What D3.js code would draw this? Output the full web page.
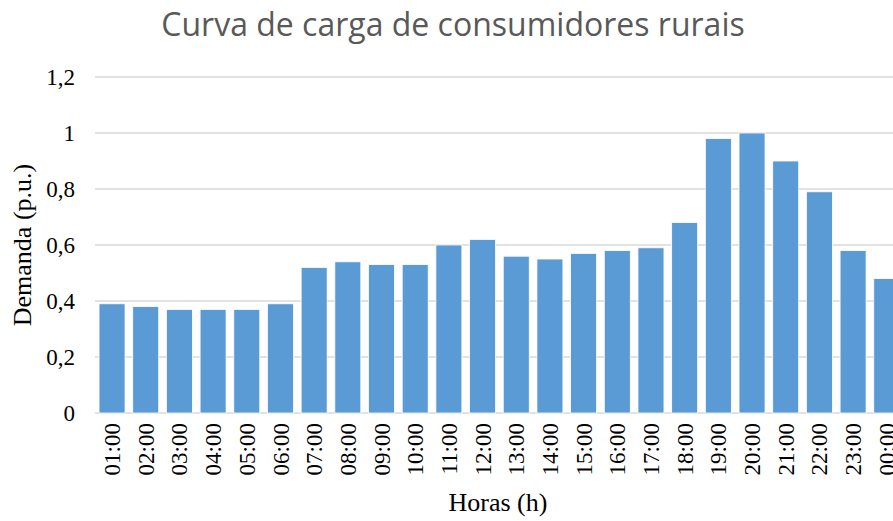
<!DOCTYPE html>
<html>
<head>
<meta charset="utf-8">
<script src="https://cdn.jsdelivr.net/npm/d3@7"></script>
<style>
  body { margin: 0; background: #fff; }
  svg { display: block; overflow: hidden; }
</style>
</head>
<body>
<svg id="chart"></svg>
<script>
// chart data
const hours = ["01:00", "02:00", "03:00", "04:00", "05:00", "06:00", "07:00", "08:00",
    "09:00", "10:00", "11:00", "12:00", "13:00", "14:00", "15:00", "16:00",
    "17:00", "18:00", "19:00", "20:00", "21:00", "22:00", "23:00", "00:00"];
const demand = [0.39, 0.38, 0.37, 0.37, 0.37, 0.39, 0.52, 0.54,
    0.53, 0.53, 0.60, 0.62, 0.56, 0.55, 0.57, 0.58,
    0.59, 0.68, 0.98, 1.00, 0.90, 0.79, 0.58, 0.48];
const yTicks = [0, 0.2, 0.4, 0.6, 0.8, 1, 1.2];

const title = "Curva de carga de consumidores rurais";
const xTitle = "Horas (h)";
const yTitle = "Demanda (p.u.)";

const width = 893;
const height = 521;
const serif = "'Liberation Serif', 'Times New Roman', serif";

const svg = d3.select("#chart")
    .attr("width", width)
    .attr("height", height);

// plot area runs past the right edge, the last bar gets cut off
const x = d3.scaleBand()
    .domain(hours)
    .range([95.2, 903.6])
    .paddingInner(0.228)
    .paddingOuter(0.114);

const y = d3.scaleLinear()
    .domain([0, 1.2])
    .range([413, 77]);

const fmt = d => d === 0 ? "0" : (Number.isInteger(d) ? String(d) : d.toFixed(1).replace(".", ","));

// gridlines
svg.append("g")
    .selectAll("line")
    .data(yTicks)
    .enter().append("line")
    .attr("x1", 95)
    .attr("x2", width)
    .attr("y1", d => y(d))
    .attr("y2", d => y(d))
    .style("stroke", "#d9d9d9")
    .style("stroke-width", 1.4);

// y tick labels
svg.append("g")
    .selectAll("text")
    .data(yTicks)
    .enter().append("text")
    .attr("x", 75)
    .attr("y", d => y(d))
    .attr("dy", "0.35em")
    .attr("text-anchor", "end")
    .style("font-family", serif)
    .style("font-size", "23px")
    .style("fill", "#000")
    .text(fmt);

// bars
svg.append("g")
    .selectAll("rect")
    .data(demand)
    .enter().append("rect")
    .attr("x", (d, i) => x(hours[i]))
    .attr("y", d => y(d))
    .attr("width", x.bandwidth())
    .attr("height", d => y(0) - y(d))
    .style("fill", "#5b9bd5")
    .style("stroke", "#ffffff")
    .style("stroke-width", 0.8);

// x tick labels, rotated
svg.append("g")
    .selectAll("text")
    .data(hours)
    .enter().append("text")
    .attr("transform", d => `translate(${x(d) + x.bandwidth() / 2},423) rotate(-90)`)
    .attr("dy", "0.35em")
    .attr("text-anchor", "end")
    .style("font-family", serif)
    .style("font-size", "23px")
    .style("fill", "#000")
    .text(d => d);

// titles
svg.append("text")
    .attr("x", 453)
    .attr("y", 36)
    .attr("text-anchor", "middle")
    .style("font-family", "'Open Sans', 'Noto Sans', sans-serif")
    .style("font-size", "32px")
    .style("fill", "#595959")
    .text(title);

svg.append("text")
    .attr("x", 498)
    .attr("y", 511)
    .attr("text-anchor", "middle")
    .style("font-family", serif)
    .style("font-size", "26px")
    .style("fill", "#000")
    .text(xTitle);

svg.append("text")
    .attr("transform", "translate(31,245) rotate(-90)")
    .attr("text-anchor", "middle")
    .style("font-family", serif)
    .style("font-size", "26px")
    .style("fill", "#000")
    .text(yTitle);
</script>
</body>
</html>
